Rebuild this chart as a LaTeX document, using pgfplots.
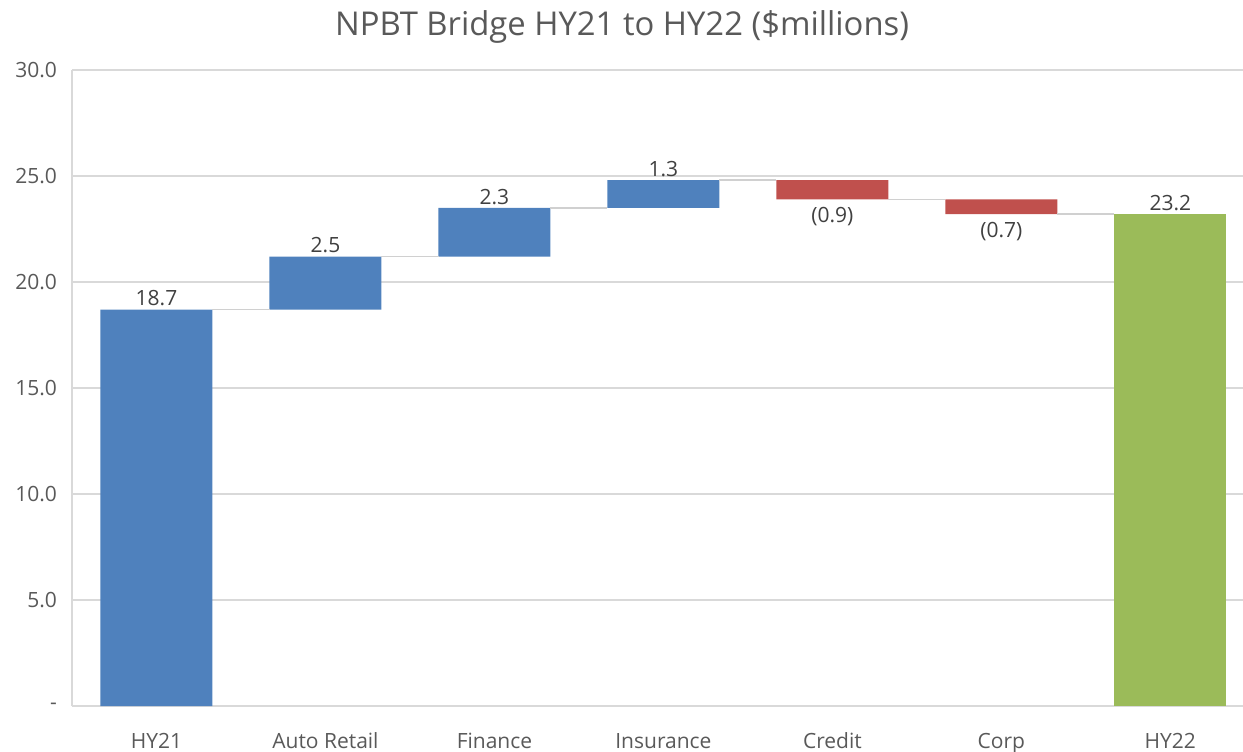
\documentclass[border=0pt]{standalone}
\usepackage{pgfplots}
\pgfplotsset{compat=1.18}
\usepackage{fontspec}
\setmainfont{Open Sans}
\definecolor{cblue}{HTML}{4F81BD}
\definecolor{cred}{HTML}{C0504D}
\definecolor{cgreen}{HTML}{9BBB59}
\definecolor{gridc}{HTML}{D9D9D9}
\definecolor{connc}{HTML}{D0D0D0}
\definecolor{txt}{HTML}{595959}
\definecolor{lbl}{HTML}{404040}
\pgfplotsset{common/.style={
  at={(36pt,22.5pt)}, anchor=south west, scale only axis,
  width=585.5pt, height=318pt,
  xmin=-0.5, xmax=6.43, ymin=0, ymax=30,
}}
\begin{document}
\begin{tikzpicture}
\useasboundingbox (0,0) rectangle (621.5pt,375.5pt);
\begin{axis}[common, ybar stacked, bar width=56pt,
  axis lines*=left, axis line style={gridc, line width=0.8pt},
  ymajorgrids, grid style={gridc, line width=0.8pt},
  major tick length=0pt,
  xtick={0,...,6},
  xticklabels={HY21,Auto Retail,Finance,Insurance,Credit,Corp,HY22},
  ytick={0,5,...,30},
  yticklabels={-,5.0,10.0,15.0,20.0,25.0,30.0},
  tick label style={font=\fontsize{10.5}{12}\selectfont, text=txt},
  xticklabel style={yshift=-9pt, text height=1.6ex, text depth=0.4ex},
  yticklabel style={xshift=-4pt},
]
\addplot[draw=none, fill=none] coordinates {(0,0) (1,18.7) (2,21.2) (3,23.5) (4,23.9) (5,23.2) (6,0)};
\addplot[draw=none, fill=cblue] coordinates {(0,18.7) (1,2.5) (2,2.3) (3,1.3) (4,0) (5,0) (6,0)};
\addplot[draw=none, fill=cred] coordinates {(0,0) (1,0) (2,0) (3,0) (4,0.9) (5,0.7) (6,0)};
\addplot[draw=none, fill=cgreen] coordinates {(0,0) (1,0) (2,0) (3,0) (4,0) (5,0) (6,23.2)};
\end{axis}
\begin{axis}[common, hide axis]
\addplot[connc, line width=0.8pt, mark=none] coordinates {(0.331,18.7) (0.669,18.7)};
\addplot[connc, line width=0.8pt, mark=none] coordinates {(1.331,21.2) (1.669,21.2)};
\addplot[connc, line width=0.8pt, mark=none] coordinates {(2.331,23.5) (2.669,23.5)};
\addplot[connc, line width=0.8pt, mark=none] coordinates {(3.331,24.8) (3.669,24.8)};
\addplot[connc, line width=0.8pt, mark=none] coordinates {(4.331,23.9) (4.669,23.9)};
\addplot[connc, line width=0.8pt, mark=none] coordinates {(5.331,23.2) (5.669,23.2)};
\addplot[draw=none, mark=none, nodes near coords, point meta=explicit symbolic,
  nodes near coords align=above,
  every node near coord/.style={font=\fontsize{10.5}{12}\selectfont, text=lbl, inner sep=1.5pt}]
  coordinates {(0,18.7)[18.7] (1,21.2)[2.5] (2,23.5)[2.3] (3,24.8)[1.3] (6,23.2)[23.2]};
\addplot[draw=none, mark=none, nodes near coords, point meta=explicit symbolic,
  nodes near coords align=below,
  every node near coord/.style={font=\fontsize{10.5}{12}\selectfont, text=lbl, inner sep=1.5pt, yshift=-2.5pt}]
  coordinates {(4,23.9)[(0.9)] (5,23.2)[(0.7)]};
\end{axis}
\node[text=txt, font=\fontsize{16.4}{19}\selectfont] at (311pt,362pt) {NPBT Bridge HY21 to HY22 (\$millions)};
\end{tikzpicture}
\end{document}
